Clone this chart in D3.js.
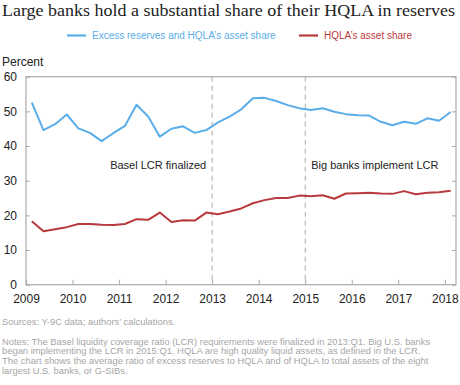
<!DOCTYPE html>
<html lang="en">
<head>
<meta charset="UTF-8">
<title>HQLA in reserves</title>
<script src="https://d3js.org/d3.v7.min.js"></script>
<style>
  body { margin: 0; background: #fff; }
  text { font-family: "Liberation Sans", Arial, sans-serif; }
  .title { font-family: "Liberation Serif", "DejaVu Serif", serif; fill: #222; }
  .frame { fill: none; stroke: #aaa; stroke-width: 1.2; }
  .tick-lbl { font-size: 12px; fill: #222; }
  .note { font-size: 9.4px; fill: #a6a6a6; }
</style>
</head>
<body>
<div id="chart"></div>
<script>
// quarterly observations, 2009:Q1 - 2018:Q1
var quarters = ["2009Q1","2009Q2","2009Q3","2009Q4","2010Q1","2010Q2","2010Q3","2010Q4",
  "2011Q1","2011Q2","2011Q3","2011Q4","2012Q1","2012Q2","2012Q3","2012Q4",
  "2013Q1","2013Q2","2013Q3","2013Q4","2014Q1","2014Q2","2014Q3","2014Q4",
  "2015Q1","2015Q2","2015Q3","2015Q4","2016Q1","2016Q2","2016Q3","2016Q4",
  "2017Q1","2017Q2","2017Q3","2017Q4","2018Q1"];

var excessReserves = [52.5,44.6,46.3,49.1,45.1,43.8,41.4,43.7,45.8,51.9,48.5,42.7,45.0,45.7,43.8,44.6,
  46.8,48.5,50.6,53.8,53.9,53.0,51.8,50.9,50.4,50.9,49.9,49.2,48.9,48.8,47.0,46.0,47.0,46.4,48.0,47.3,49.8];

var hqlaShare = [18.3,15.4,16.0,16.6,17.5,17.5,17.3,17.2,17.5,18.9,18.7,20.8,18.1,18.6,18.5,20.8,
  20.3,21.1,22.0,23.5,24.4,25.0,25.0,25.7,25.5,25.8,24.8,26.3,26.4,26.5,26.3,26.2,27.0,26.1,26.5,26.7,27.1];

var yTicks = [0, 10, 20, 30, 40, 50, 60];
var xTicks = [2009, 2010, 2011, 2012, 2013, 2014, 2015, 2016, 2017, 2018];
var events = [
  {year: 2013, label: "Basel LCR finalized"},
  {year: 2015, label: "Big banks implement LCR"}
];
var noteLines = [
  "Notes: The Basel liquidity coverage ratio (LCR) requirements were finalized in 2013:Q1. Big U.S. banks",
  "began implementing the LCR in 2015:Q1. HQLA are high quality liquid assets, as defined in the LCR.",
  "The chart shows the average ratio of excess reserves to HQLA and of HQLA to total assets of the eight",
  "largest U.S. banks, or G-SIBs."
];

var blue = "#5aade8", red = "#b93a3d";

var W = 460, H = 385;
var plot = {left: 26, right: 456, top: 76.7, bottom: 284.7};

var svg = d3.select("#chart").append("svg")
    .attr("width", W)
    .attr("height", H);

// mid-quarter position
function qPos(q) {
  return +q.slice(0, 4) + (+q.slice(5) - 1) * 0.25 + 0.125;
}

var x = d3.scaleLinear().domain([2009, 2018.24]).range([plot.left, plot.right]);
var y = d3.scaleLinear().domain([0, 60]).range([plot.bottom, plot.top]);

// title
svg.append("text")
    .attr("class", "title")
    .attr("x", 2).attr("y", 16)
    .attr("font-size", 17.5)
    .attr("textLength", 453)
    .attr("lengthAdjust", "spacingAndGlyphs")
    .text("Large banks hold a substantial share of their HQLA in reserves");

// legend
var legend = [
  {label: "Excess reserves and HQLA\u2019s asset share", color: blue, x: 67},
  {label: "HQLA\u2019s asset share", color: red, x: 299}
];
var lg = svg.append("g").selectAll("g").data(legend).enter().append("g");
lg.append("line")
    .attr("x1", function(d) { return d.x; })
    .attr("x2", function(d) { return d.x + 19; })
    .attr("y1", 35.5).attr("y2", 35.5)
    .attr("stroke", function(d) { return d.color; })
    .attr("stroke-width", 2.2);
lg.append("text")
    .attr("x", function(d) { return d.x + 25; })
    .attr("y", 39.3)
    .attr("font-size", 10)
    .attr("fill", function(d) { return d.color; })
    .text(function(d) { return d.label; });

svg.append("text")
    .attr("x", 2).attr("y", 66)
    .attr("font-size", 12)
    .attr("fill", "#222")
    .text("Percent");

// frame
svg.append("rect")
    .attr("class", "frame")
    .attr("x", plot.left).attr("y", plot.top)
    .attr("width", plot.right - plot.left).attr("height", plot.bottom - plot.top);

// axes, ticks point inward
svg.append("g")
    .attr("transform", "translate(0," + plot.bottom + ")")
    .call(d3.axisBottom(x).tickValues(xTicks).tickSize(-5).tickFormat(d3.format("d")).tickPadding(10))
    .call(function(g) {
      g.select(".domain").remove();
      g.selectAll("line").attr("stroke", "#aaa");
      g.selectAll("text").attr("class", "tick-lbl");
      g.attr("font-family", null).attr("font-size", null);
    });

svg.append("g")
    .attr("transform", "translate(" + plot.left + ",0)")
    .call(d3.axisLeft(y).tickValues(yTicks).tickSize(-4).tickPadding(9))
    .call(function(g) {
      g.select(".domain").remove();
      g.selectAll("line").attr("stroke", "#aaa");
      g.selectAll("text").attr("class", "tick-lbl");
      g.attr("font-family", null).attr("font-size", null);
    });

svg.append("g")
    .attr("transform", "translate(" + plot.right + ",0)")
    .call(d3.axisRight(y).tickValues(yTicks).tickSize(-4).tickFormat(""))
    .call(function(g) {
      g.select(".domain").remove();
      g.selectAll("line").attr("stroke", "#aaa");
    });

// event markers
svg.append("g").selectAll("line").data(events).enter().append("line")
    .attr("x1", function(d) { return x(d.year); })
    .attr("x2", function(d) { return x(d.year); })
    .attr("y1", plot.top).attr("y2", plot.bottom)
    .attr("stroke", "#aaa")
    .attr("stroke-width", 1)
    .attr("stroke-dasharray", "5,4");

svg.append("g").selectAll("text").data(events).enter().append("text")
    .attr("x", function(d, i) { return i === 0 ? x(d.year) - 6 : x(d.year) + 6; })
    .attr("y", 168.5)
    .attr("text-anchor", function(d, i) { return i === 0 ? "end" : "start"; })
    .attr("font-size", 11)
    .attr("fill", "#222")
    .text(function(d) { return d.label; });

// series
var line = d3.line()
    .x(function(d, i) { return x(qPos(quarters[i])); })
    .y(function(d) { return y(d); });

svg.append("path")
    .datum(hqlaShare)
    .attr("fill", "none")
    .attr("stroke", red)
    .attr("stroke-width", 2)
    .attr("stroke-linejoin", "round")
    .attr("d", line);

svg.append("path")
    .datum(excessReserves)
    .attr("fill", "none")
    .attr("stroke", blue)
    .attr("stroke-width", 2)
    .attr("stroke-linejoin", "round")
    .attr("d", line);

// sources & notes
svg.append("text")
    .attr("class", "note")
    .attr("x", 2).attr("y", 325)
    .text("Sources: Y-9C data; authors\u2019 calculations.");

svg.append("g").selectAll("text").data(noteLines).enter().append("text")
    .attr("class", "note")
    .attr("x", 2)
    .attr("y", function(d, i) { return 344.5 + i * 9.8; })
    .text(function(d) { return d; });
</script>
</body>
</html>
